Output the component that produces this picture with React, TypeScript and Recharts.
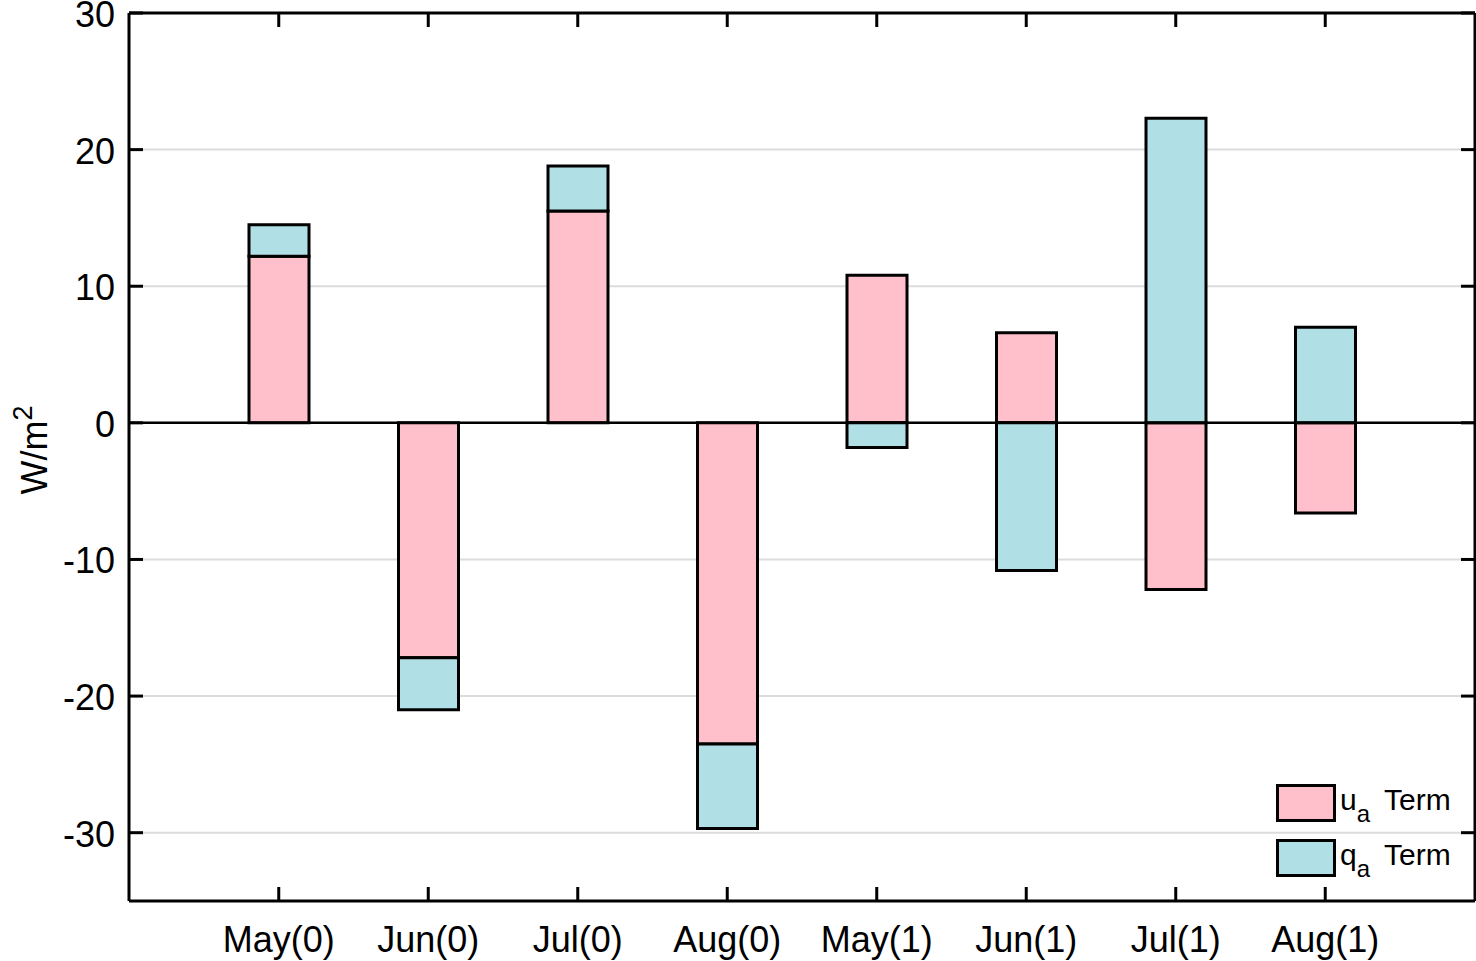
import React from 'react'
import {
  BarChart, Bar, XAxis, YAxis, CartesianGrid, ReferenceLine, Legend,
} from 'recharts'

const months = ['May(0)', 'Jun(0)', 'Jul(0)', 'Aug(0)', 'May(1)', 'Jun(1)', 'Jul(1)', 'Aug(1)']
const uaTerm = [12.2, -17.2, 15.5, -23.5, 10.8, 6.6, -12.2, -6.6]
const qaTerm = [2.3, -3.8, 3.3, -6.2, -1.8, -10.8, 22.3, 7.0]
const yTicks = [-30, -20, -10, 0, 10, 20, 30]

const data = months.map((name, i) => ({ name, ua: uaTerm[i], qa: qaTerm[i] }))

const FONT = '"Liberation Sans", Arial, Helvetica, sans-serif'
const PINK = '#ffc0cb'
const CYAN = '#b0e0e6'
const TICK = 14
const LW = 3

const LeftTick = ({ x, y, payload }: any) => (
  <g>
    <line x1={x + 14} x2={x + 14 + TICK} y1={y} y2={y} stroke="#000" strokeWidth={LW} />
    <text x={x} y={y + 14} textAnchor="end" fontSize={36} fontFamily={FONT} fill="#000">
      {payload.value}
    </text>
  </g>
)

const RightTick = ({ x, y }: any) => (
  <line x1={x} x2={x - TICK} y1={y} y2={y} stroke="#000" strokeWidth={LW} />
)

const BottomTick = ({ x, y, payload }: any) => (
  <g>
    <line x1={x} x2={x} y1={y} y2={y - TICK} stroke="#000" strokeWidth={LW} />
    <text x={x} y={y + 51} textAnchor="middle" fontSize={36} fontFamily={FONT} fill="#000">
      {payload.value}
    </text>
  </g>
)

const TopTick = ({ x, y }: any) => (
  <line x1={x} x2={x} y1={y} y2={y + TICK} stroke="#000" strokeWidth={LW} />
)

const YLabel = ({ viewBox }: any) => {
  const cx = 47
  const cy = viewBox.y + viewBox.height / 2 - 7
  return (
    <text
      x={cx}
      y={cy}
      transform={`rotate(-90, ${cx}, ${cy})`}
      textAnchor="middle"
      fontSize={36}
      fontFamily={FONT}
      fill="#000"
    >
      W/m<tspan baselineShift="super" fontSize={27}>2</tspan>
    </text>
  )
}

const legendItems = [
  { sym: 'u', color: PINK },
  { sym: 'q', color: CYAN },
]

const renderLegend = () => (
  <div style={{ fontFamily: FONT, fontSize: 30, color: '#000' }}>
    {legendItems.map((it) => (
      <div key={it.sym} style={{ display: 'flex', alignItems: 'flex-start', height: 55 }}>
        <div
          style={{
            width: 60, height: 38, background: it.color,
            border: '3px solid #000', boxSizing: 'border-box',
          }}
        />
        <span style={{ marginLeft: 4, lineHeight: '32px', whiteSpace: 'nowrap' }}>
          {it.sym}
          <sub style={{ fontSize: 24, verticalAlign: -12 }}>a</sub>
          <span style={{ marginLeft: 14 }}>Term</span>
        </span>
      </div>
    ))}
  </div>
)

export default function App() {
  return (
    <div style={{ position: 'absolute', left: 0, top: 0, background: '#fff' }}>
      <BarChart
        width={1476}
        height={961}
        data={data}
        stackOffset="sign"
        margin={{ top: 12, right: 0, left: 0, bottom: 0 }}
      >
        <CartesianGrid horizontal vertical={false} stroke="#dcdcdc" strokeWidth={2} />
        <XAxis
          dataKey="name"
          padding={{ left: 75, right: 75 }}
          height={60}
          tickSize={0}
          tickMargin={0}
          axisLine={{ stroke: '#000', strokeWidth: LW }}
          tickLine={false}
          tick={<BottomTick />}
          interval={0}
        />
        <XAxis
          xAxisId="t"
          orientation="top"
          dataKey="name"
          padding={{ left: 75, right: 75 }}
          height={1}
          tickSize={0}
          tickMargin={0}
          axisLine={{ stroke: '#000', strokeWidth: LW }}
          tickLine={false}
          tick={<TopTick />}
          interval={0}
        />
        <YAxis
          domain={[-35, 30]}
          ticks={yTicks}
          width={129}
          tickSize={0}
          tickMargin={14}
          axisLine={{ stroke: '#000', strokeWidth: LW }}
          tickLine={false}
          tick={<LeftTick />}
          allowDataOverflow
          label={<YLabel />}
        />
        <YAxis
          yAxisId="r"
          orientation="right"
          domain={[-35, 30]}
          ticks={yTicks}
          width={1}
          tickSize={0}
          tickMargin={0}
          axisLine={{ stroke: '#000', strokeWidth: LW }}
          tickLine={false}
          tick={<RightTick />}
          allowDataOverflow
        />
        <ReferenceLine y={0} stroke="#000" strokeWidth={2.5} />
        <Bar dataKey="ua" name="ua Term" stackId="s" fill={PINK} stroke="#000" strokeWidth={LW} barSize={60} isAnimationActive={false} />
        <Bar dataKey="qa" name="qa Term" stackId="s" fill={CYAN} stroke="#000" strokeWidth={LW} barSize={60} isAnimationActive={false} />
        <Legend
          layout="vertical"
          align="center"
          verticalAlign="middle"
          content={renderLegend}
          wrapperStyle={{ left: 1276, top: 784, width: 200 }}
        />
      </BarChart>
    </div>
  )
}
